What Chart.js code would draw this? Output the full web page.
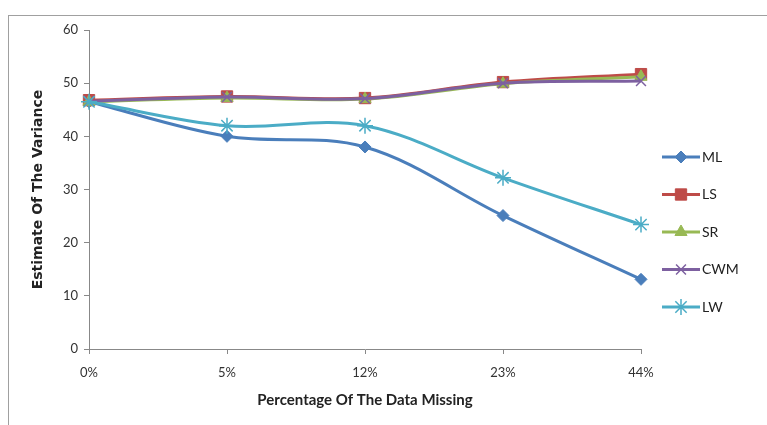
<!DOCTYPE html>
<html>
<head>
<meta charset="utf-8">
<script src="https://cdn.jsdelivr.net/npm/chart.js@4"></script>
<style>
    body { margin: 0; background: #fff; overflow: hidden; }
    .frame { position: absolute; left: 8px; top: 15px; width: 800px; height: 450px;
             border-left: 1px solid #a0a0a0; border-top: 1px solid #a0a0a0; }
    .wrap { position: absolute; left: 0; top: 0; width: 767px; height: 425px; }
</style>
</head>
<body>
<div class="frame"></div>
<div class="wrap"><canvas id="varChart" width="767" height="425"></canvas></div>
<script>
// ===== DATA =====
const categories = ['0%', '5%', '12%', '23%', '44%'];
const mlValues  = [46.5, 40.0, 38.0, 25.1, 13.1];
const lsValues  = [46.8, 47.5, 47.2, 50.2, 51.7];
const srValues  = [46.5, 47.2, 47.0, 49.9, 51.2];
const cwmValues = [46.6, 47.4, 47.1, 50.0, 50.4];
const lwValues  = [46.5, 42.0, 42.0, 32.2, 23.4];
const yTicks = [0, 10, 20, 30, 40, 50, 60];

const FONT = 'Lato, "Open Sans", sans-serif';

function series(label, data, color, style, radius, order) {
    return {
        label: label,
        data: data,
        borderColor: color,
        backgroundColor: color,
        borderWidth: 3,
        tension: 0.35,
        pointStyle: style,
        pointRadius: radius,
        pointHoverRadius: radius,
        pointBorderColor: color,
        pointBackgroundColor: color,
        pointBorderWidth: (style === 'star' || style === 'crossRot') ? 1.5 : 1,
        order: order
    };
}

// legend drawn at the right like the Excel one: line with marker in the middle
const sideLegend = {
    id: 'sideLegend',
    afterDraw(chart) {
        const ctx = chart.ctx;
        const x0 = 662, x1 = 700, yStart = 157, step = 37.5;
        chart.data.datasets.forEach((ds, i) => {
            const y = yStart + i * step;
            ctx.save();
            ctx.strokeStyle = ds.borderColor;
            ctx.lineWidth = 3;
            ctx.beginPath();
            ctx.moveTo(x0, y);
            ctx.lineTo(x1, y);
            ctx.stroke();
            ctx.fillStyle = ds.pointBackgroundColor;
            ctx.strokeStyle = ds.pointBorderColor;
            ctx.lineWidth = ds.pointBorderWidth;
            Chart.helpers.drawPoint(ctx, {
                pointStyle: ds.pointStyle,
                radius: ds.pointRadius,
                rotation: 0,
                borderWidth: ds.pointBorderWidth
            }, (x0 + x1) / 2, y);
            ctx.fillStyle = '#222';
            ctx.font = '14px ' + FONT;
            ctx.textBaseline = 'middle';
            ctx.textAlign = 'left';
            ctx.fillText(ds.label, x1 + 2, y);
            ctx.restore();
        });
    }
};

// ===== CHART =====
const ctx = document.getElementById('varChart').getContext('2d');
const chart = new Chart(ctx, {
    type: 'line',
    data: {
        labels: categories,
        datasets: [
            series('ML', mlValues, '#4a7ebb', 'rectRot', 6, 5),
            series('LS', lsValues, '#be4b48', 'rect', 8, 4),
            series('SR', srValues, '#98b954', 'triangle', 7, 3),
            series('CWM', cwmValues, '#7d60a0', 'crossRot', 7, 2),
            series('LW', lwValues, '#4bacc6', 'star', 8, 1)
        ]
    },
    options: {
        responsive: false,
        animation: false,
        layout: { padding: { top: 30, right: 126, left: 0, bottom: 0 } },
        plugins: {
            legend: { display: false },
            tooltip: { enabled: false }
        },
        scales: {
            x: {
                offset: false,
                afterFit: (s) => { s.height = 76; },
                title: {
                    display: true,
                    text: 'Percentage Of The Data Missing',
                    color: '#222',
                    font: { family: FONT, size: 15, weight: 'bold' },
                    padding: { top: 4, bottom: 16 }
                },
                ticks: { color: '#333', font: { family: FONT, size: 13 }, padding: 11 },
                grid: { drawOnChartArea: false, color: '#888', tickLength: 5 },
                border: { color: '#888' }
            },
            y: {
                min: 0,
                max: 60,
                afterFit: (s) => { s.width = 89; },
                afterBuildTicks: (s) => { s.ticks = yTicks.map(v => ({ value: v })); },
                title: {
                    display: true,
                    text: 'Estimate Of The Variance',
                    color: '#222',
                    font: { family: '"DejaVu Sans", sans-serif', size: 14, weight: 'bold' },
                    padding: { top: 30, bottom: 0 }
                },
                ticks: { color: '#333', font: { family: FONT, size: 13 }, padding: 6 },
                grid: { drawOnChartArea: false, color: '#888', tickLength: 5 },
                border: { color: '#888' }
            }
        }
    },
    plugins: [sideLegend]
});
</script>
</body>
</html>
